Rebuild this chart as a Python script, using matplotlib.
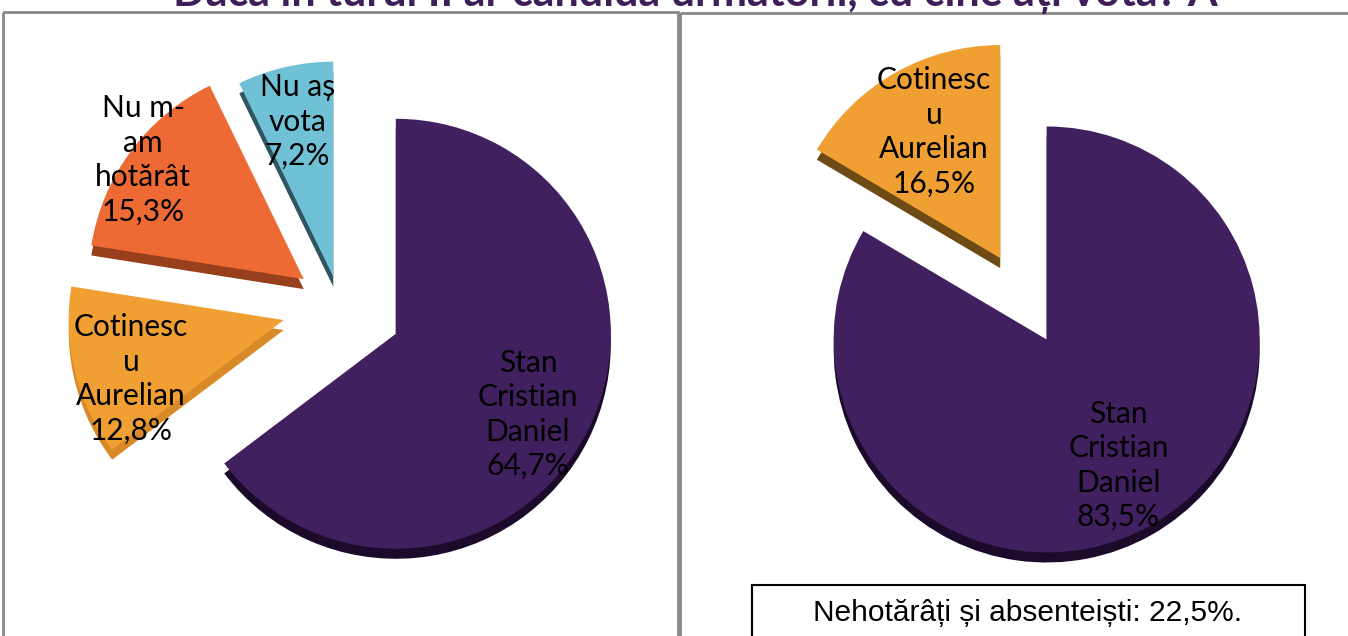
import matplotlib.pyplot as plt
from matplotlib.patches import Rectangle
import numpy as np

W, H = 1348, 636

TITLE = 'Dacă în turul II ar candida următorii, cu cine ați vota? A'
NOTE = 'Nehotărâți și absenteiști: 22,5%.'

# turul II - toate variantele
left_labels = ['Stan\nCristian\nDaniel', 'Cotinesc\nu\nAurelian', 'Nu m-\nam\nhotărât', 'Nu aș\nvota']
left_values = [64.7, 12.8, 15.3, 7.2]
left_colors = ['#40205e', '#f0a033', '#ee6a35', '#70c1d6']
left_sides = ['#1c0a2a', '#d98a28', '#983f1c', '#2e5560']

# turul II - doar candidații
right_labels = ['Stan\nCristian\nDaniel', 'Cotinesc\nu\nAurelian']
right_values = [83.5, 16.5]
right_colors = ['#40205e', '#f0a033']
right_sides = ['#1c0a2a', '#6e4a14']

LABEL_FONT = dict(family=['Lato', 'DejaVu Sans'], fontsize=21.5, color='black', linespacing=1.28)


def pie_3d(ax, values, labels, colors, sides, explode, center, r, label_r, label_da, depth=10):
    cx, cy = center
    expl = [e * r for e in explode]   # pie() ia explode în unități absolute
    # partea laterală, desenată puțin mai jos
    ax.pie(values, colors=sides, explode=expl, startangle=90, counterclock=False,
           radius=r, center=(cx, cy - depth), wedgeprops=dict(linewidth=0))
    wedges, _ = ax.pie(values, colors=colors, explode=expl, startangle=90, counterclock=False,
                       radius=r, center=(cx, cy), wedgeprops=dict(linewidth=0))
    for w, lab, val, d, da in zip(wedges, labels, values, label_r, label_da):
        ang = np.deg2rad((w.theta1 + w.theta2) / 2 + da)
        x, y = w.center
        txt = f'{lab}\n{val:.1f}%'.replace('.', ',')
        ax.text(x + d * r * np.cos(ang), y + d * r * np.sin(ang), txt,
                ha='center', va='center', **LABEL_FONT)


fig = plt.figure(figsize=(W / 100, H / 100), dpi=100)

# cadre, titlu, notă
bg = fig.add_axes([0, 0, 1, 1])
bg.set_xlim(0, W)
bg.set_ylim(H, 0)
bg.axis('off')
bg.add_patch(Rectangle((3, 12), 675, H, fill=False, edgecolor='#888888', linewidth=2))
bg.add_patch(Rectangle((680, 13), W, H, fill=False, edgecolor='#888888', linewidth=2))
bg.text(695, 14, TITLE, ha='center', va='bottom', color='#3f1f5a',
        fontsize=31, fontweight='bold', family=['Lato', 'DejaVu Sans'])
bg.add_patch(Rectangle((752, 585), 553, 80, facecolor='white', edgecolor='black', linewidth=1.5))
bg.text(1028, 613, NOTE, ha='center', va='center', fontsize=21.5,
        family=['Liberation Sans', 'DejaVu Sans'])

ax1 = fig.add_axes([0, 0, 674 / W, 1])
pie_3d(ax1, left_values, left_labels, left_colors, left_sides,
       explode=[0.29, 0.27, 0.21, 0.14], center=(340, 330), r=215,
       label_r=[0.72, 0.76, 0.93, 0.74], label_da=[-5, 7, 0, 0])
ax1.set_xlim(0, 674)
ax1.set_ylim(0, H)
ax1.axis('off')

ax2 = fig.add_axes([680 / W, 0, 668 / W, 1])
pie_3d(ax2, right_values, right_labels, right_colors, right_sides,
       explode=[0.3, 0.14], center=(335, 352), r=213,
       label_r=[0.68, 0.67], label_da=[0, -2])
ax2.set_xlim(0, 668)
ax2.set_ylim(0, H)
ax2.axis('off')

fig.savefig('out.png', dpi=100)
